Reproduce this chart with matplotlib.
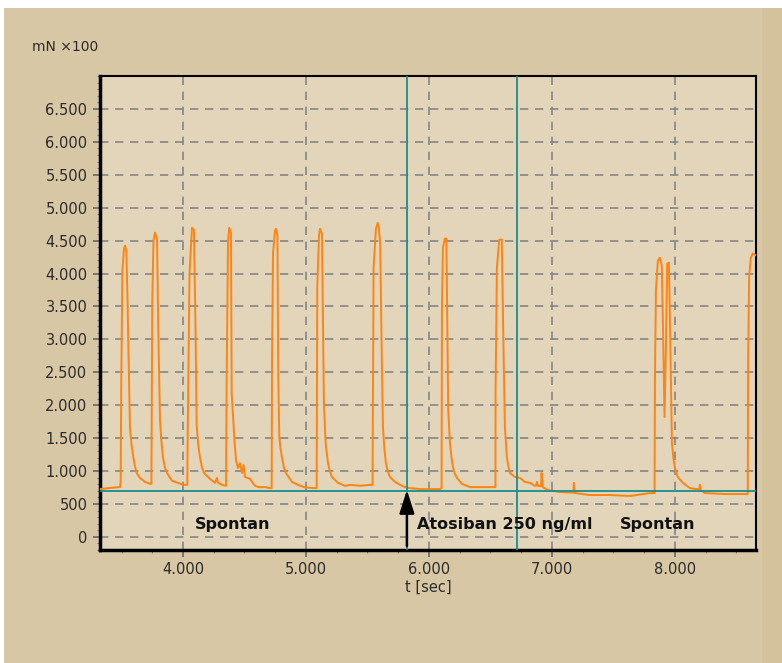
import numpy as np
import matplotlib
matplotlib.use("Agg")
import matplotlib.pyplot as plt
from matplotlib.patches import Rectangle
from matplotlib.ticker import MultipleLocator, FuncFormatter

# Force trace (t in sec, force in mN x100)
t = [3325, 3406, 3488,
     3493, 3498, 3507, 3520, 3528, 3539, 3549, 3555, 3569, 3582, 3596, 3610, 3623, 3650, 3691, 3732, 3743,
     3750, 3760, 3772, 3789, 3799, 3813, 3825, 3837, 3852, 3870, 3911, 3959, 4000, 4035,
     4037, 4053, 4073, 4089, 4102, 4111, 4124, 4138, 4154, 4171, 4220, 4260, 4276, 4285, 4317, 4350,
     4355, 4366, 4376, 4390, 4396, 4420, 4431, 4447, 4463, 4480, 4493, 4504, 4545, 4585, 4618, 4667, 4707, 4721,
     4724, 4732, 4748, 4756, 4768, 4775, 4783, 4794, 4805, 4820, 4837, 4886, 4935, 4984, 5057, 5087,
     5092, 5106, 5114, 5130, 5146, 5160, 5179, 5194, 5211, 5260, 5317, 5366, 5439, 5520, 5542,
     5543, 5550, 5569, 5583, 5593, 5604, 5615, 5626, 5638, 5650, 5665, 5683, 5724, 5764, 5805, 5846, 5927, 6089, 6103,
     6106, 6114, 6130, 6142, 6157, 6171, 6183, 6195, 6210, 6228, 6268, 6333, 6415, 6541,
     6542, 6553, 6572, 6593, 6604, 6618, 6634, 6646, 6659, 6699, 6740, 6780, 6821, 6862, 6874, 6878, 6886,
     6912, 6916, 6927, 6967, 7065, 7175, 7179, 7187, 7309, 7472, 7634, 7797, 7835,
     7838, 7846, 7862, 7878, 7894, 7905, 7916, 7927, 7938, 7951, 7959, 7976, 7988, 8000, 8012, 8024, 8065,
     8122, 8179, 8200, 8203, 8211, 8244, 8406, 8593,
     8596, 8604, 8618, 8634, 8659]
force = [727, 742, 757,
         833, 2350, 4045, 4365, 4425, 4350, 3590, 2955, 1650, 1390, 1210, 1070, 970, 895, 835, 805, 805,
         3560, 4500, 4620, 4530, 3135, 1775, 1440, 1210, 1060, 970, 850, 820, 790, 790,
         1320, 4000, 4695, 4665, 3135, 1695, 1400, 1210, 1060, 970, 880, 820, 895, 820, 790, 775,
         2380, 4500, 4695, 4620, 2180, 1425, 1165, 1045, 1120, 970, 1090, 910, 880, 775, 755, 755, 740, 740,
         2680, 4305, 4650, 4680, 4575, 2425, 1515, 1330, 1210, 1060, 970, 835, 790, 755, 740, 740,
         3790, 4575, 4680, 4605, 2030, 1425, 1120, 1000, 910, 820, 775, 790, 775, 790, 790,
         1425, 4090, 4680, 4770, 4695, 4455, 2940, 1665, 1330, 1120, 1000, 910, 835, 790, 755, 740, 725, 725, 740,
         3485, 4395, 4530, 4530, 1925, 1425, 1210, 1060, 960, 895, 805, 755, 755, 755,
         2225, 4090, 4515, 4515, 3135, 1665, 1210, 1070, 970, 910, 895, 835, 820, 775, 780, 835, 775,
         770, 970, 755, 710, 680, 670, 820, 665, 635, 635, 620, 665, 665,
         2335, 3740, 4195, 4240, 4120, 3030, 1820, 2835, 4150, 4165, 3440, 1425, 1200, 1060, 970, 910, 820,
         740, 725, 725, 790, 710, 665, 650, 650,
         2635, 3940, 4240, 4305, 4275]

# Cursor lines and baseline marker
cursor_t = [5821, 6715]
baseline = 690
arrow_t = 5821

labels = ["Spontan", "Atosiban 250 ng/ml", "Spontan"]
label_t = [4407, 6618, 7862]
label_y = 180

orange = "#ff8411"
teal = "#188c8c"
fig_bg = "#d8c7a4"
ax_bg = "#e2d5b9"

fig = plt.figure(figsize=(7.82, 6.63), dpi=100, facecolor="white")

# tan panel behind the chart, thin white margin top/left like the screenshot
fig.patches.append(Rectangle((4 / 782, 0), 758 / 782, 655 / 663, transform=fig.transFigure,
                             facecolor=fig_bg, edgecolor="none", zorder=-10))
fig.patches.append(Rectangle((762 / 782, 0), 20 / 782, 655 / 663, transform=fig.transFigure,
                             facecolor="#d4c29c", edgecolor="none", zorder=-10))

ax = fig.add_axes([100 / 782, 1 - 550 / 663, 656 / 782, 474 / 663])
ax.set_facecolor(ax_bg)

ax.plot(t, force, color=orange, lw=1.4, zorder=3)

for ct in cursor_t:
    ax.axvline(ct, color=teal, lw=1.3, zorder=4)
ax.axhline(baseline, color=teal, lw=1.3, zorder=4)

ax.set_xlim(3325, 8660)
ax.set_ylim(-200, 7000)

ax.xaxis.set_minor_locator(MultipleLocator(250))
ax.yaxis.set_minor_locator(MultipleLocator(100))
ax.set_xticks(np.arange(4000, 8001, 1000))
ax.set_yticks(np.arange(0, 6501, 500))

fmt = FuncFormatter(lambda v, p: f"{int(v):,}".replace(",", "."))
ax.xaxis.set_major_formatter(fmt)
ax.yaxis.set_major_formatter(fmt)

ax.tick_params(axis="both", which="major", direction="out", length=5, width=1.2,
               color="#666666", labelsize=10.5, labelcolor="#2b2b2b", pad=4)
ax.tick_params(axis="both", which="minor", direction="out", length=2, width=0.8,
               color="#777777")

ax.grid(True, which="major", color="#858585", linestyle=(0, (5, 4)), lw=1.2, zorder=1)
ax.set_axisbelow(True)

for side in ["left", "bottom"]:
    ax.spines[side].set_linewidth(2.5)
for side in ["top", "right"]:
    ax.spines[side].set_linewidth(1.5)

ax.set_xlabel("t [sec]", fontsize=10.5, color="#2b2b2b", labelpad=2)
fig.text(32 / 782, 1 - 47 / 663, "mN \u00d7100", fontsize=10, color="#2b2b2b", va="center")

for lab, lt in zip(labels, label_t):
    ax.text(lt, label_y, lab, fontsize=11.5, fontweight="bold", color="#111111",
            ha="center", va="center", zorder=5)

ax.annotate("", xy=(arrow_t, baseline + 20), xytext=(arrow_t, -140),
            arrowprops=dict(arrowstyle="-|>,head_length=1.4,head_width=0.45",
                            color="black", lw=1.8, shrinkA=0, shrinkB=0), zorder=6)

fig.savefig("out.png", dpi=100, facecolor=fig.get_facecolor())
